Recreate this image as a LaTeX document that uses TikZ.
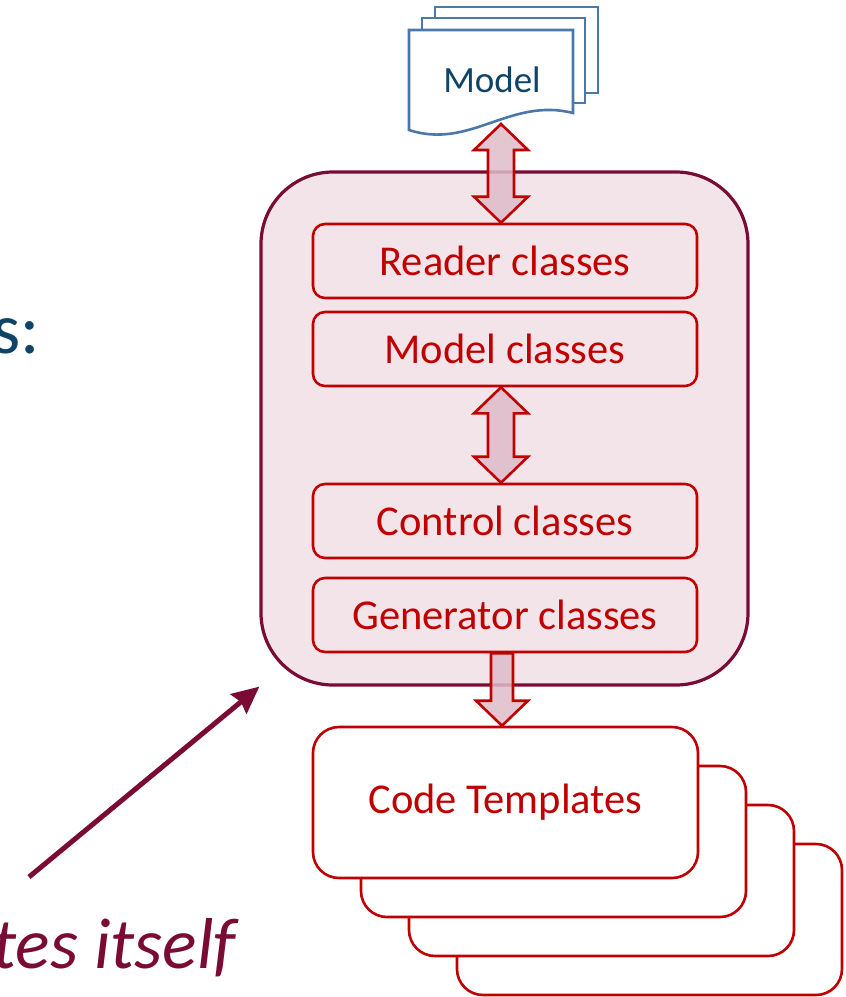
\documentclass[tikz,border=0pt]{standalone}
\usepackage{fontspec}
\setmainfont{Carlito}
\usetikzlibrary{arrows.meta,calc}

\definecolor{deepred}{HTML}{C00000}
\definecolor{slidemaroon}{HTML}{7A0B34}
\definecolor{panelpink}{HTML}{F2E4E9}
\definecolor{arrowpink}{HTML}{DFBCC9}
\definecolor{docblue}{HTML}{4A78A8}
\definecolor{navytext}{HTML}{0E4468}

\tikzset{
  engine/.style={draw=slidemaroon, line width=3.2pt, rounded corners=72pt,
    fill=panelpink, minimum width=487pt, minimum height=513pt, inner sep=0pt},
  classbox/.style={draw=deepred, line width=2.6pt, rounded corners=12pt,
    fill=panelpink, minimum width=384pt, minimum height=74pt, inner sep=0pt,
    text=deepred, font=\fontsize{42.5}{48}\selectfont},
  templatebox/.style={draw=deepred, line width=2.6pt, rounded corners=26pt,
    fill=white, minimum width=385pt, minimum height=151pt, inner sep=0pt,
    text=deepred, font=\fontsize{42.5}{48}\selectfont},
  page/.style={draw=docblue, line width=2.6pt, fill=white, line join=miter},
  blockarrow/.style={draw=deepred, line width=2.6pt, fill=arrowpink,
    fill opacity=0.85, line join=miter},
}

% block arrow with heads at both ends, from the point #1 down to the point #2
\newcommand\twowayarrow[2]{%
  \draw[blockarrow] let \p1=(#1), \p2=(#2) in
    (\x1,\y1) -- (\x1+27pt,\y1-26pt) -- (\x1+13pt,\y1-26pt)
    -- (\x1+13pt,\y2+26pt) -- (\x1+27pt,\y2+26pt) -- (\x1,\y2)
    -- (\x1-27pt,\y2+26pt) -- (\x1-13pt,\y2+26pt)
    -- (\x1-13pt,\y1-26pt) -- (\x1-27pt,\y1-26pt) -- cycle;}

% block arrow pointing down, from the point #1 to the point #2
\newcommand\downblockarrow[2]{%
  \draw[blockarrow] let \p1=(#1), \p2=(#2) in
    (\x1-11pt,\y1) -- (\x1+11pt,\y1) -- (\x1+11pt,\y2+25pt)
    -- (\x1+26pt,\y2+25pt) -- (\x1,\y2) -- (\x1-26pt,\y2+25pt)
    -- (\x1-11pt,\y2+25pt) -- cycle;}

\begin{document}
\begin{tikzpicture}[x=1pt,y=-1pt]
  \useasboundingbox (0,0) rectangle (846,997);
  \clip (0,0) rectangle (846,997);

  % stacked model documents
  \draw[page] (435,7) rectangle (598,93);
  \draw[page] (422,18) rectangle (585,103);
  \draw[page] (409,30) -- (573,30) -- (573,113)
    .. controls (510,97) and (470,150) .. (409,130) -- cycle;
  \node[text=navytext, font=\fontsize{37}{42}\selectfont] (model) at (492,80) {Model};
  \coordinate (modelbase) at (501,124);

  % generator engine and its class layers
  \node[engine] (engine) at (504.5,428.5) {};
  \node[classbox] (reader)    at (505,261) {Reader classes};
  \node[classbox] (modelcls)  at (505,349) {Model classes};
  \node[classbox] (control)   at (505,521) {Control classes};
  \node[classbox] (generator) at (505,615) {Generator classes};

  % stack of code templates
  \node[templatebox] (tpl4) at (649.5,919.5) {};
  \node[templatebox] (tpl3) at (601.5,880.5) {};
  \node[templatebox] (tpl2) at (553.5,841.5) {};
  \node[templatebox] (tpl1) at (505.5,802.5) {Code Templates};

  % data flow
  \twowayarrow{modelbase}{reader.north}
  \twowayarrow{$(modelcls.south)+(-4,0)$}{control.north}
  \downblockarrow{$(generator.south)+(-3,0)$}{tpl1.north}

  % side captions
  \node[anchor=base west, inner sep=0pt, text=navytext,
    font=\fontsize{72}{80}\selectfont] (lead) at (-8,353) {s:};
  \node[anchor=base west, inner sep=0pt, text=slidemaroon,
    font=\itshape\fontsize{72}{80}\selectfont] (selfnote) at (-8,968) {tes itself};
  \coordinate (tail) at (29,877);
  \draw[slidemaroon, line width=5pt,
    -{Stealth[length=27pt,width=25pt,inset=3pt]}] (tail) -- (engine.south west);
\end{tikzpicture}
\end{document}
